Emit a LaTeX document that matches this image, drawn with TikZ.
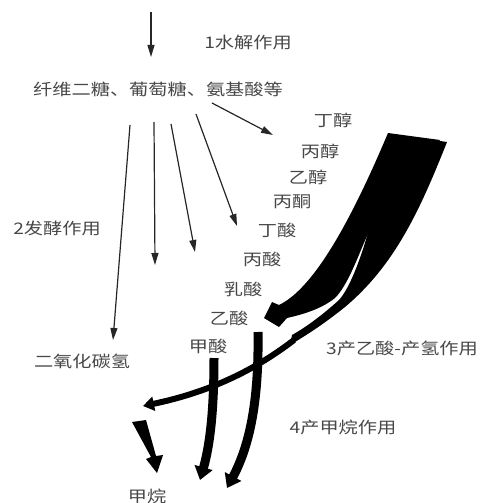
\documentclass[tikz,border=0pt]{standalone}
\usepackage{fontspec}
\newfontfamily\cjk[FakeStretch=1.2]{Noto Sans CJK SC}
\usetikzlibrary{arrows.meta}
\begin{document}
\begin{tikzpicture}[x=1pt,y=-1pt,
  lbl/.style={font=\cjk\fontsize{16}{16}\selectfont, text=black!72, inner sep=0pt},
  thinarrow/.style={draw=black!85, line width=1.2pt, -{Triangle[length=12pt,width=7pt]}},
  boldarrow/.style={draw=black, line width=9pt, line cap=butt, -{Triangle[length=13pt,width=18pt]}},
  bandarrow/.style={draw=black, line width=6pt, -{Triangle[length=11pt,width=14pt]}},
  blob/.style={fill=black}]
\useasboundingbox (0,0) rectangle (483,503);

% labels
\node[lbl] (hyd)  at (248,42)  {1水解作用};
\node[lbl] (src)  at (158,89)  {纤维二糖、葡萄糖、氨基酸等};
\node[lbl] (dc)   at (333,120) {丁醇};
\node[lbl] (bc)   at (320,151) {丙醇};
\node[lbl] (yc)   at (308,177) {乙醇};
\node[lbl] (bt)   at (292,202) {丙酮};
\node[lbl] (ds)   at (277,230) {丁酸};
\node[lbl] (bs)   at (262,259) {丙酸};
\node[lbl] (rs)   at (243,289) {乳酸};
\node[lbl] (ys)   at (229,318) {乙酸};
\node[lbl] (js)   at (208,346) {甲酸};
\node[lbl] (co)   at (82,361)  {二氧化碳氢};
\node[lbl] (ferm) at (57,228)  {2发酵作用};
\node[lbl] (aceto) at (402,348) {3产乙酸-产氢作用};
\node[lbl] (meth) at (343,427) {4产甲烷作用};
\node[lbl] (ch4)  at (147,496) {甲烷};

% thin arrows
\coordinate (inS) at (151,12);   \coordinate (inE) at (151,57);
\coordinate (aS) at (212,103);   \coordinate (aE) at (273,135);
\coordinate (bS) at (130,125);   \coordinate (bE) at (113,340);
\coordinate (cS) at (154,122);   \coordinate (cE) at (155,265);
\coordinate (dS) at (171,124);   \coordinate (dE) at (195,252);
\coordinate (eS) at (196,114);   \coordinate (eE) at (237,226);
\draw[thinarrow] (inS) -- (inE);
\draw[thinarrow] (aS) -- (aE);
\draw[thinarrow] (bS) -- (bE);
\draw[thinarrow] (cS) -- (cE);
\draw[thinarrow] (dS) -- (dE);
\draw[thinarrow] (eS) -- (eE);

% big band: upper branch to acetic acid
\fill[blob] (388,133) -- (440,140) -- (367,236)
  .. controls (358,256) and (348,285) .. (335,298)
  .. controls (320,310) and (300,315) .. (287,318)
  -- (279,327) -- (264,318) -- (272,302) -- (279,305)
  .. controls (310,290) and (345,235) .. (388,133) -- cycle;
% big band: lower branch
\fill[blob] (420,138) -- (447,142)
  .. controls (420,210) and (395,265) .. (345,307)
  .. controls (325,323) and (310,333) .. (290,345)
  -- (292,335)
  .. controls (310,325) and (328,310) .. (339,300)
  .. controls (350,288) and (361,257) .. (367,236) -- cycle;
\coordinate (bandS) at (294,340);
\coordinate (bandE) at (143,406);
\draw[bandarrow] (bandS) .. controls (255,370) and (210,392) .. (bandE);

% vertical bold arrows
\coordinate (r1S) at (258,332); \coordinate (r1E) at (227,488);
\draw[boldarrow] (r1S) .. controls (259,400) and (250,445) .. (r1E);
\coordinate (r2S) at (214,358); \coordinate (r2E) at (200,480);
\draw[boldarrow] (r2S) .. controls (214,410) and (210,445) .. (r2E);

% left wedge arrow
\fill[blob] (132,422) -- (146,420) -- (156,456) -- (163,455) -- (157,473)
  -- (146,459) -- (151,457) -- cycle;
\end{tikzpicture}
\end{document}
